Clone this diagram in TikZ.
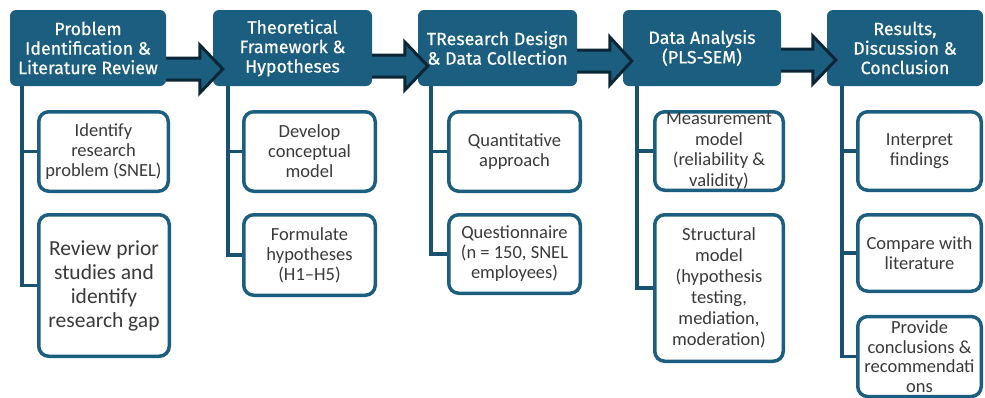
\documentclass[tikz,border=0pt]{standalone}
\usepackage{fontspec}
\setmainfont{Carlito}
\newfontfamily\headfont{Fira Sans}[FakeBold=0.6]
\usetikzlibrary{calc}

\definecolor{steel}{RGB}{27,94,128}
\definecolor{navy}{RGB}{12,38,54}
\definecolor{trunkblue}{RGB}{24,82,112}
\definecolor{bodytext}{RGB}{58,58,58}

\tikzset{
  head/.style={draw=none, fill=steel, rounded corners=6pt, inner sep=0pt,
    align=center, text=white,
    font={\headfont\fontsize{17.8}{19.5}\selectfont}},
  task/.style={draw=steel, line width=3.5pt, fill=white, rounded corners=10pt,
    inner sep=0pt, align=center, text=bodytext,
    font={\fontsize{18.5}{20}\selectfont}},
  trunk/.style={draw=trunkblue, line width=3.5pt},
  barrowfill/.style={fill=steel},
  barrowline/.style={draw=navy, line width=3pt, line join=miter},
}

% block arrow between two stage headers:
% #1 from node, #2 to node, #3 drop of the arrow axis below the header centre,
% #4 overlap of the tip into the next header, #5 head length
\newcommand\flowarrow[5]{%
  \fill[barrowfill]
    ([xshift=-1, yshift={-(#3)+11}]#1.east) --
    ([xshift={#4-#5}, yshift={-(#3)+11}]#2.west) --
    ([xshift={#4-#5}, yshift={-(#3)+24}]#2.west) --
    ([xshift=#4, yshift={-(#3)}]#2.west) --
    ([xshift={#4-#5}, yshift={-(#3)-24}]#2.west) --
    ([xshift={#4-#5}, yshift={-(#3)-11}]#2.west) --
    ([xshift=-1, yshift={-(#3)-11}]#1.east) -- cycle;
  \draw[barrowline]
    ([xshift=0, yshift={-(#3)+11}]#1.east) --
    ([xshift={#4-#5}, yshift={-(#3)+11}]#2.west) --
    ([xshift={#4-#5}, yshift={-(#3)+24}]#2.west) --
    ([xshift=#4, yshift={-(#3)}]#2.west) --
    ([xshift={#4-#5}, yshift={-(#3)-24}]#2.west) --
    ([xshift={#4-#5}, yshift={-(#3)-11}]#2.west) --
    ([xshift=0, yshift={-(#3)-11}]#1.east);
}

\begin{document}
\begin{tikzpicture}[x=1pt, y=-1pt]
\useasboundingbox (0,0) rectangle (985,397);

% stage headers
\node[head, minimum width=156, minimum height=76] (h1) at (88,48)
  {Problem\\Identification \&\\Literature Review};
\node[head, minimum width=159, minimum height=76] (h2) at (292.5,48)
  {Theoretical\\Framework \&\\Hypotheses};
\node[head, minimum width=159, minimum height=76] (h3) at (497.5,48)
  {TResearch Design\\\& Data Collection};
\node[head, minimum width=158, minimum height=76] (h4) at (702,48)
  {Data Analysis\\(PLS-SEM)};
\node[head, minimum width=156, minimum height=76] (h5) at (905,48)
  {Results,\\Discussion \&\\Conclusion};

% tasks of each stage
\node[task, minimum width=129.5, minimum height=79.5] (c11) at (103.5,151.5)
  {Identify\\research\\problem (SNEL)};
\node[task, minimum width=130.5, minimum height=141.5,
      font={\fontsize{21.5}{24}\selectfont}] (c12) at (104,285.5)
  {Review prior\\studies and\\identify\\research gap};

\node[task, minimum width=131.5, minimum height=79.5] (c21) at (309.5,151.5)
  {Develop\\conceptual\\model};
\node[task, minimum width=131.5, minimum height=80.5] (c22) at (309.5,255)
  {Formulate\\hypotheses\\(H1–H5)};

\node[task, minimum width=131.5, minimum height=79.5] (c31) at (514.5,151.5)
  {Quantitative\\approach};
\node[task, minimum width=131.5, minimum height=78.5] (c32) at (514.5,254)
  {Questionnaire\\(n = 150, SNEL\\employees)};

\node[task, minimum width=128.5, minimum height=78.5,
      font={\fontsize{18.5}{20.5}\selectfont}] (c41) at (719,151)
  {Measurement\\model\\(reliability \&\\validity)};
\node[task, minimum width=128.5, minimum height=146.5,
      font={\fontsize{18.5}{21}\selectfont}] (c42) at (719,288)
  {Structural\\model\\(hypothesis\\testing,\\mediation,\\moderation)};

\node[task, minimum width=123.5, minimum height=78.5] (c51) at (919.5,151)
  {Interpret\\findings};
\node[task, minimum width=123.5, minimum height=76.5] (c52) at (919.5,253)
  {Compare with\\literature};
\node[task, minimum width=123.5, minimum height=80,
      font={\fontsize{18.5}{19.5}\selectfont}] (c53) at (919.5,356.5)
  {Provide\\conclusions \&\\recommendati\\ons};

% trunk lines from each header to its tasks
\coordinate (t1) at ([xshift=12]h1.south west);
\coordinate (t2) at ([xshift=15]h2.south west);
\coordinate (t3) at ([xshift=13]h3.south west);
\coordinate (t4) at ([xshift=14]h4.south west);
\coordinate (t5) at ([xshift=15]h5.south west);

\draw[trunk] (t1) |- (c12.west);
\draw[trunk] (c11.west) -- (c11.west -| t1);
\draw[trunk] (t2) |- (c22.west);
\draw[trunk] (c21.west) -- (c21.west -| t2);
\draw[trunk] (t3) |- (c32.west);
\draw[trunk] (c31.west) -- (c31.west -| t3);
\draw[trunk] (t4) |- (c42.west);
\draw[trunk] (c41.west) -- (c41.west -| t4);
\draw[trunk] (t5) |- (c53.west);
\draw[trunk] (c51.west) -- (c51.west -| t5);
\draw[trunk] (c52.west) -- (c52.west -| t5);

% block arrows between the stages
\flowarrow{h1}{h2}{21}{10}{23}
\flowarrow{h2}{h3}{18}{10}{23}
\flowarrow{h3}{h4}{13}{9}{22}
\flowarrow{h4}{h5}{12}{9}{23}
\end{tikzpicture}
\end{document}
